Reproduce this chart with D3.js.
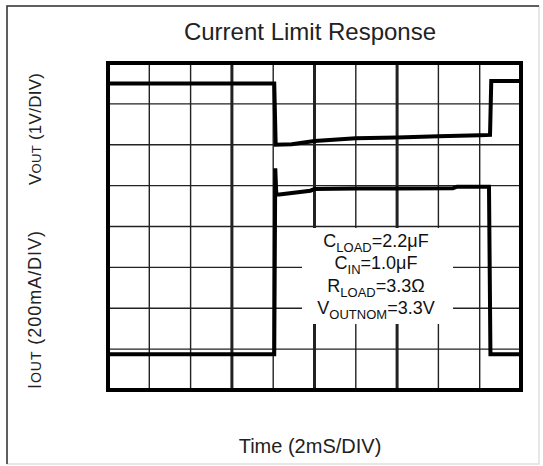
<!DOCTYPE html>
<html>
<head>
<meta charset="utf-8">
<script src="https://cdn.jsdelivr.net/npm/d3@7"></script>
<style>
  body { margin: 0; background: #fff; }
  text { font-family: "Liberation Sans", Arial, sans-serif; fill: #222; }
</style>
</head>
<body>
<svg id="chart-area"></svg>
<script>
// scope traces
// Vout in volts (1V/DIV), Iout in mA (200mA/DIV), time in ms (2mS/DIV)
var voutTimes = [0, 8.05, 8.12, 8.9, 10, 12, 14, 16, 18, 18.5, 18.56, 20];
var voutVolts = [3.3, 3.3, 1.8, 1.81, 1.89, 1.96, 1.98, 2.01, 2.03, 2.04, 3.36, 3.36];

var ioutTimes = [0, 8.05, 8.1, 8.15, 8.3, 9.8, 10, 12, 14, 16.7, 16.9, 18.45, 18.52, 20];
var ioutMa = [0, 0, 910, 782, 782, 800, 808, 811, 811, 812, 820, 820, 0, 0];

// time ticks (one per division), thicker graticule at these
var timeTicks = [2, 4, 6, 8, 10, 12, 14, 16, 18];
var thickTicks = [6, 10, 14];
var divTicks = [1, 2, 3, 4, 5, 6, 7];

// annotation lines: [main, subscript, rest]
var noteLines = [
  ["C", "LOAD", "=2.2\u03BCF"],
  ["C", "IN", "=1.0\u03BCF"],
  ["R", "LOAD", "=3.3\u03A9"],
  ["V", "OUTNOM", "=3.3V"]
];

var graph = {
  width: 543,
  height: 466,
  box: { left: 108, right: 521, top: 63, bottom: 390 },
  scale: { x: '', yDiv: '', yV: '', yI: '' },
  svg: ''
};

graph.svg = d3.select("#chart-area")
  .attr("width", graph.width)
  .attr("height", graph.height);

// outer frame
graph.svg.append("rect")
  .attr("x", 7).attr("y", 6)
  .attr("width", 532).attr("height", 458)
  .attr("fill", "none")
  .attr("stroke", "#d8d8d8")
  .attr("stroke-width", 1.2);
graph.svg.append("path")
  .attr("d", "M7,464 L7,6 L539,6")
  .attr("fill", "none")
  .attr("stroke", "#333")
  .attr("stroke-width", 1.5);

// scales
graph.scale.x = d3.scaleLinear().domain([0, 20]).range([graph.box.left, graph.box.right]);
graph.scale.yDiv = d3.scaleLinear().domain([0, 8]).range([graph.box.bottom, graph.box.top]);
// Vout ground sits 4.2 div up, Iout zero 0.9 div up
graph.scale.yV = d3.scaleLinear().domain([-4.2, 3.8]).range([graph.box.bottom, graph.box.top]);
graph.scale.yI = d3.scaleLinear().domain([-175, 1425]).range([graph.box.bottom, graph.box.top]);

var x = graph.scale.x, yDiv = graph.scale.yDiv;

// graticule
var grid = graph.svg.append("g").attr("class", "grid");
grid.selectAll("line.v")
  .data(timeTicks)
  .enter().append("line")
    .attr("class", "v")
    .attr("x1", function(d){ return x(d); })
    .attr("x2", function(d){ return x(d); })
    .attr("y1", graph.box.top)
    .attr("y2", graph.box.bottom)
    .attr("stroke", "#222")
    .attr("stroke-width", function(d){ return thickTicks.indexOf(d) >= 0 ? 3 : 1.4; });

grid.selectAll("line.h")
  .data(divTicks)
  .enter().append("line")
    .attr("class", "h")
    .attr("x1", graph.box.left)
    .attr("x2", graph.box.right)
    .attr("y1", function(d){ return yDiv(d); })
    .attr("y2", function(d){ return yDiv(d); })
    .attr("stroke", "#222")
    .attr("stroke-width", 1.4);

// white patch behind the note
graph.svg.append("rect")
  .attr("x", 302).attr("y", yDiv(4) + 1.5)
  .attr("width", 151).attr("height", 96)
  .attr("fill", "#fff");

// traces
var line = d3.line()
  .x(function(d){ return x(d[0]); })
  .y(function(d){ return d[1]; });

var voutPts = voutTimes.map(function(t, i){ return [t, graph.scale.yV(voutVolts[i])]; });
var ioutPts = ioutTimes.map(function(t, i){ return [t, graph.scale.yI(ioutMa[i])]; });

graph.svg.selectAll("path.trace")
  .data([voutPts, ioutPts])
  .enter().append("path")
    .attr("class", "trace")
    .attr("d", line)
    .attr("fill", "none")
    .attr("stroke", "#000")
    .attr("stroke-width", 4)
    .attr("stroke-linejoin", "miter");

// box border
graph.svg.append("rect")
  .attr("x", graph.box.left).attr("y", graph.box.top)
  .attr("width", graph.box.right - graph.box.left)
  .attr("height", graph.box.bottom - graph.box.top)
  .attr("fill", "none")
  .attr("stroke", "#000")
  .attr("stroke-width", 4);

// note text
var note = graph.svg.append("g").attr("class", "note");
noteLines.forEach(function(l, i){
  var t = note.append("text")
    .attr("x", 376)
    .attr("y", 247 + i * 22.3)
    .attr("text-anchor", "middle")
    .attr("font-size", "18px")
    .style("fill", "#111");
  t.append("tspan").text(l[0]);
  t.append("tspan").attr("font-size", "13px").attr("dy", 5).text(l[1]);
  t.append("tspan").attr("dy", -5).text(l[2]);
});

// title
graph.svg.append("text")
  .attr("x", 310)
  .attr("y", 40)
  .attr("text-anchor", "middle")
  .attr("font-size", "24px")
  .text("Current Limit Response");

// label X
graph.svg.append("text")
  .attr("x", 310)
  .attr("y", 453)
  .attr("text-anchor", "middle")
  .attr("font-size", "20px")
  .text("Time (2mS/DIV)");

// labels Y (small caps "OUT")
function yLabel(cy, first, rest, size, len){
  var t = graph.svg.append("text")
    .attr("transform", "translate(41," + cy + ") rotate(-90)")
    .attr("text-anchor", "middle")
    .attr("font-size", size + "px")
    .attr("textLength", len)
    .attr("lengthAdjust", "spacing");
  t.append("tspan").text(first);
  t.append("tspan").attr("font-size", Math.round(size * 0.76) + "px").text("OUT");
  t.append("tspan").text(rest);
}
yLabel(129, "V", " (1V/DIV)", 17, 112);
yLabel(310, "I", " (200mA/DIV)", 18, 158);
</script>
</body>
</html>
